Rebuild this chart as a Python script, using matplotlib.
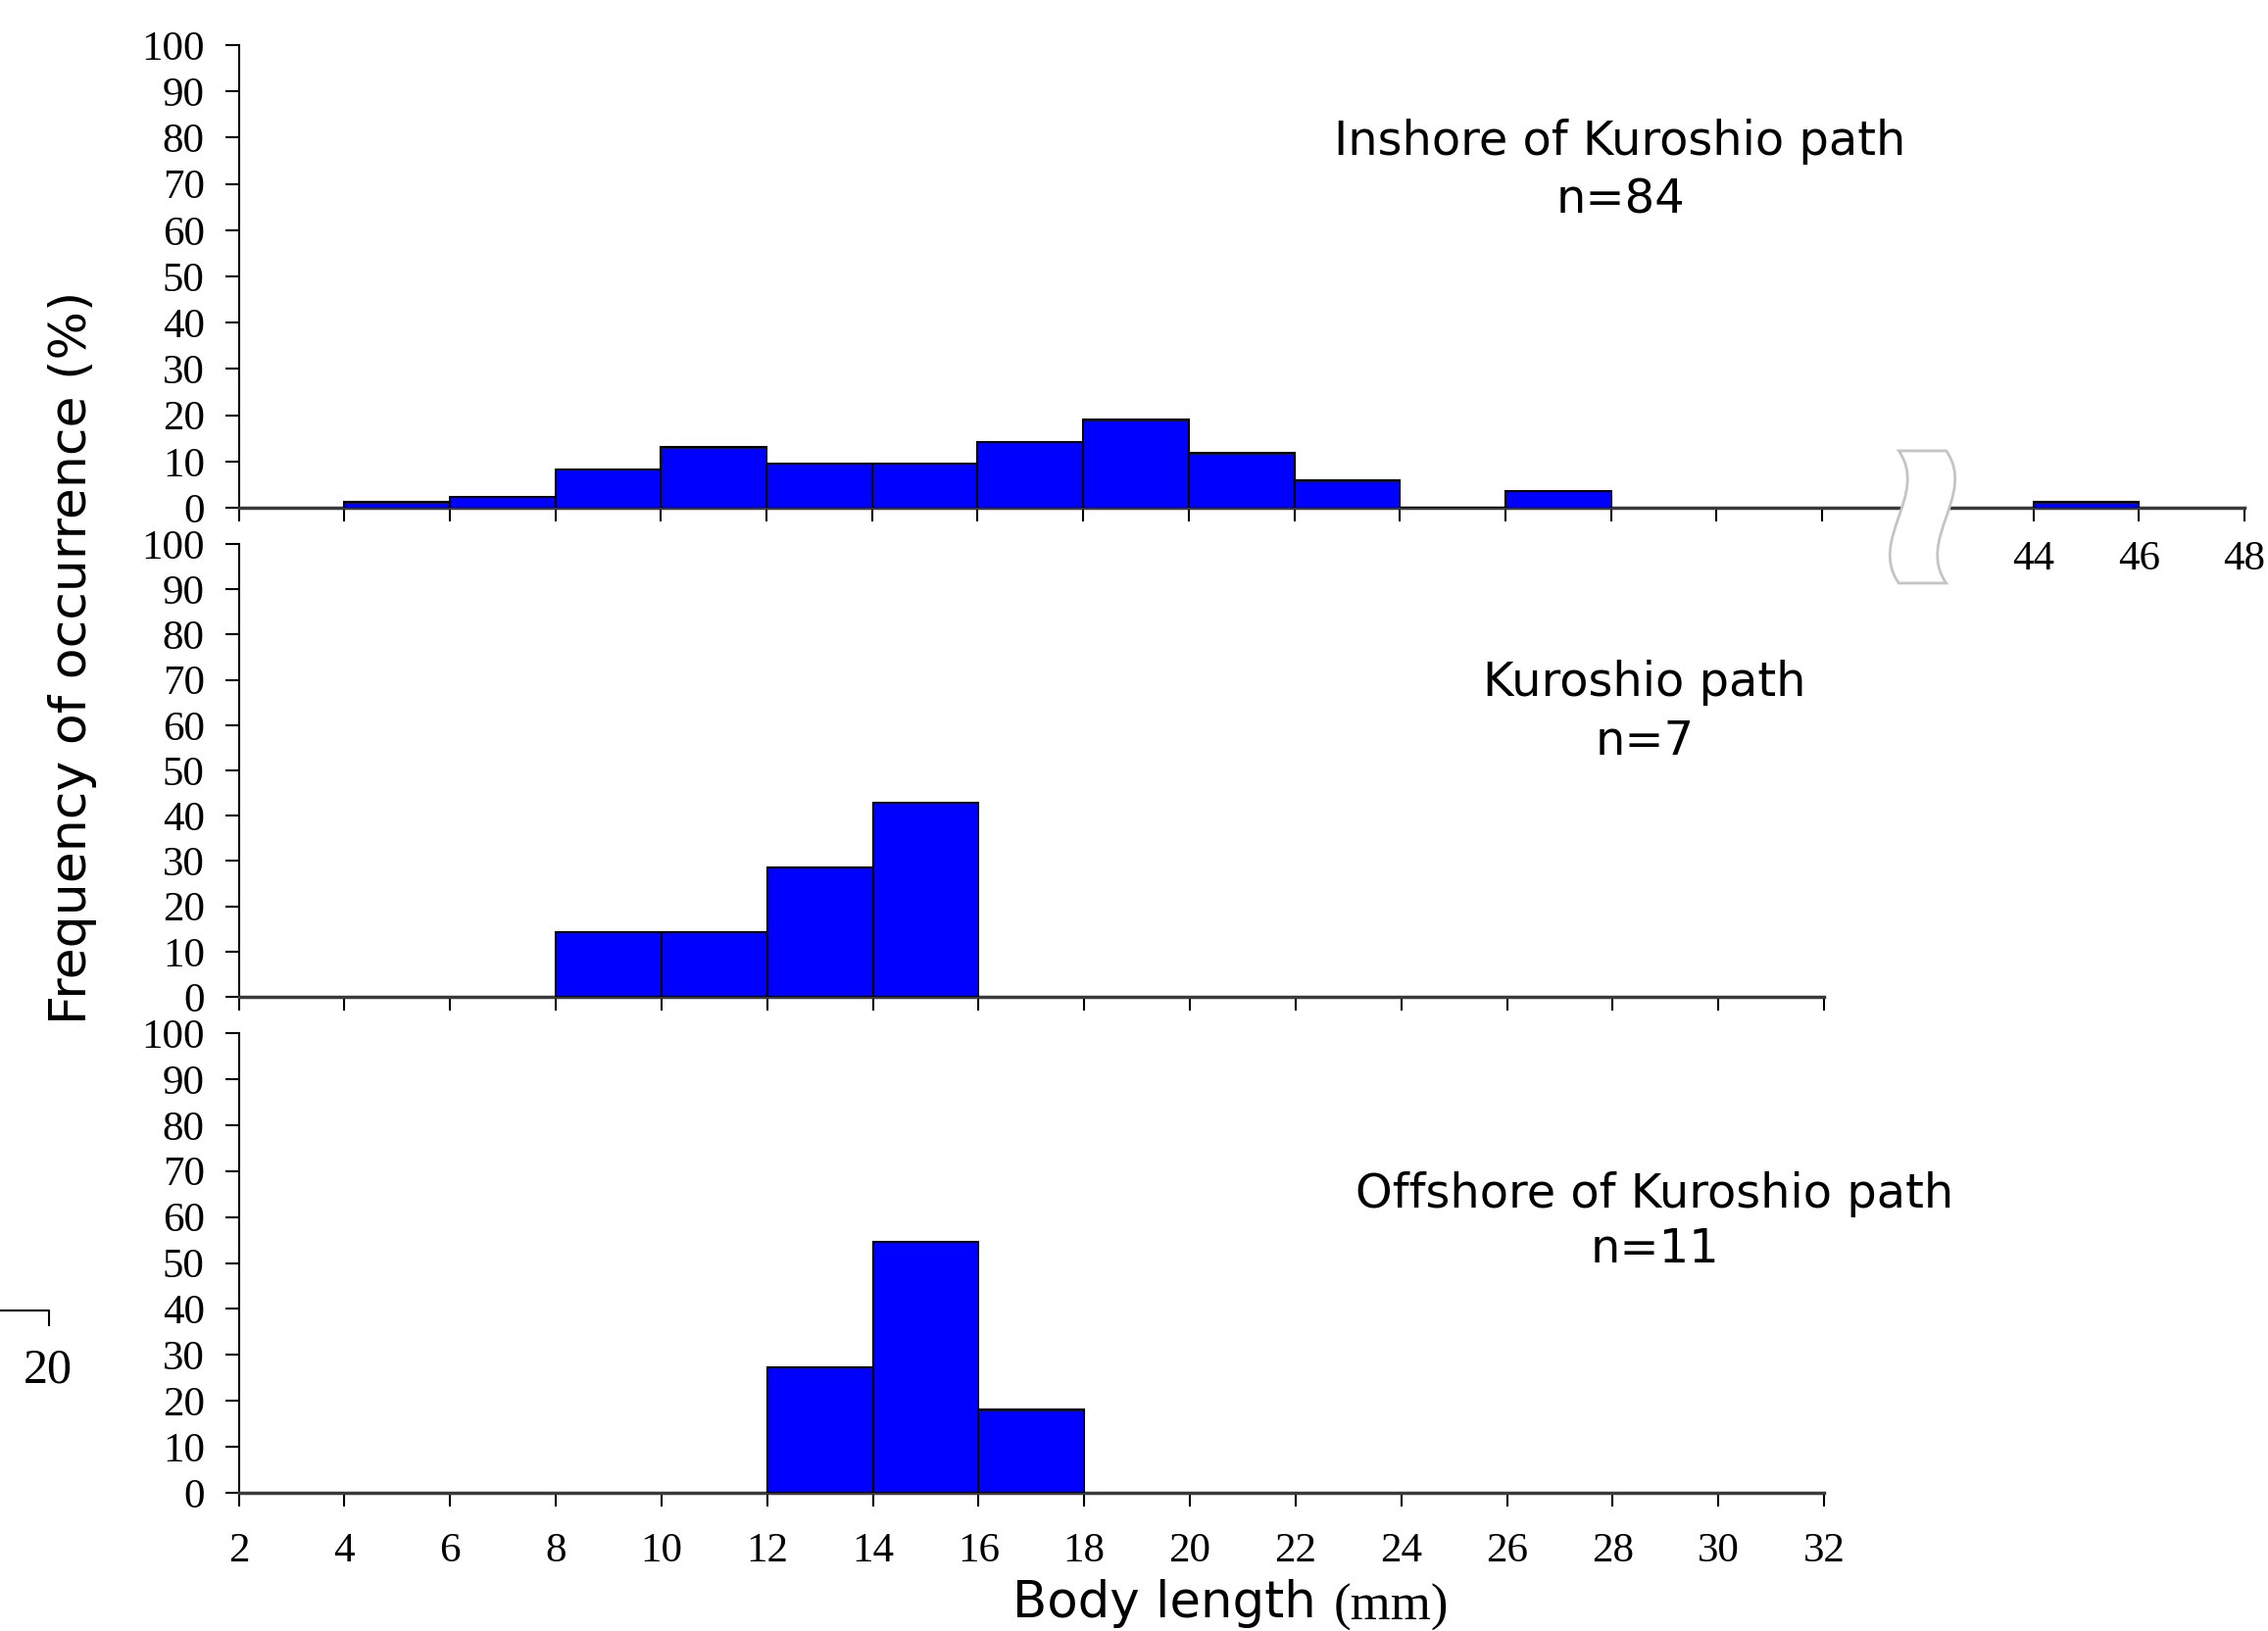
import numpy as np
import matplotlib.pyplot as plt
from matplotlib.path import Path
from matplotlib.patches import PathPatch

# bin left edges (mm) and frequency of occurrence (%)
inshore_bins = [4, 6, 8, 10, 12, 14, 16, 18, 20, 22, 24, 26, 44]
inshore_freq = [1.19, 2.38, 8.33, 13.10, 9.52, 9.52, 14.29, 19.05, 11.90, 5.95, 0.0, 3.57, 1.19]
kuroshio_bins = [8, 10, 12, 14]
kuroshio_freq = [14.29, 14.29, 28.57, 42.86]
offshore_bins = [12, 14, 16]
offshore_freq = [27.27, 54.55, 18.18]

panel_titles = ["Inshore of Kuroshio path", "Kuroshio path", "Offshore of Kuroshio path"]
panel_n = ["n=84", "n=7", "n=11"]

yticks = list(range(0, 101, 10))
xticks = list(range(2, 33, 2))
break_labels = ["44", "46", "48"]

# the top panel folds 44-48 mm onto positions 36-40 after an axis break
gap_shift = 8

serif = "Liberation Serif"
sans = "DejaVu Sans"
bar_w = 2

fig = plt.figure(figsize=(23.14, 16.64), dpi=100)
W, H = 2314, 1664

def px_axes(x0, x1, y_top, y_bot):
    return fig.add_axes([x0 / W, 1 - y_bot / H, (x1 - x0) / W, (y_bot - y_top) / H])

ax_top = px_axes(243.5, 2290, 46, 518)
ax_mid = px_axes(243.5, 1861, 555, 1017)
ax_bot = px_axes(243.5, 1861, 1054, 1523)

for ax in (ax_top, ax_mid, ax_bot):
    ax.set_ylim(0, 100)
    ax.set_yticks(yticks)
    ax.set_yticklabels([str(v) for v in yticks], fontfamily=serif, fontsize=31)
    for s in ("top", "right"):
        ax.spines[s].set_visible(False)
    ax.spines["left"].set_linewidth(1.5)
    ax.spines["bottom"].set_linewidth(2.5)
    ax.spines["bottom"].set_color("#3a3a3a")
    ax.tick_params(axis="y", direction="out", length=10, width=1.5, pad=15)
    ax.tick_params(axis="x", direction="out", length=10, width=1.5, pad=14)

# top panel
pos_top = [b - gap_shift if b > 32 else b for b in inshore_bins]
ax_top.bar(pos_top, inshore_freq, width=bar_w, align="edge",
           color="#0000ff", edgecolor="black", linewidth=1.5, zorder=3)
ax_top.set_xlim(2, 40)
top_ticks = xticks + [int(l) - gap_shift for l in break_labels]
ax_top.set_xticks(top_ticks)
ax_top.set_xticklabels([""] * len(xticks) + break_labels, fontfamily=serif, fontsize=31)

# axis break symbol
bx0, bx1 = 33.45, 34.35
by0, by1 = 12.3, -16.3
d = 0.58
hgt = by0 - by1
verts = [
    (bx0, by0),
    (bx0 + d, by0 - hgt / 3), (bx0 - d, by0 - 2 * hgt / 3), (bx0, by1),
    (bx1, by1),
    (bx1 - d, by0 - 2 * hgt / 3), (bx1 + d, by0 - hgt / 3), (bx1, by0),
    (bx0, by0),
]
codes = [Path.MOVETO, Path.CURVE4, Path.CURVE4, Path.CURVE4, Path.LINETO,
         Path.CURVE4, Path.CURVE4, Path.CURVE4, Path.CLOSEPOLY]
brk = PathPatch(Path(verts, codes), facecolor="white", edgecolor="#c4c4c4",
                linewidth=2, clip_on=False, zorder=10)
ax_top.add_patch(brk)

# middle panel
ax_mid.bar(kuroshio_bins, kuroshio_freq, width=bar_w, align="edge",
           color="#0000ff", edgecolor="black", linewidth=1.5, zorder=3)
ax_mid.set_xlim(2, 32)
ax_mid.set_xticks(xticks)
ax_mid.set_xticklabels([])

# bottom panel
ax_bot.bar(offshore_bins, offshore_freq, width=bar_w, align="edge",
           color="#0000ff", edgecolor="black", linewidth=1.5, zorder=3)
ax_bot.set_xlim(2, 32)
ax_bot.set_xticks(xticks)
ax_bot.set_xticklabels([str(v) for v in xticks], fontfamily=serif, fontsize=31)
ax_bot.tick_params(axis="x", pad=19)

# panel annotations
label_pos = [(1653, 145, 204), (1678, 697, 756), (1688, 1219, 1275)]
for (cx, y1, y2), title, n in zip(label_pos, panel_titles, panel_n):
    fig.text(cx / W, 1 - y1 / H, title, ha="center", va="center", fontfamily=sans, fontsize=34.5)
    fig.text(cx / W, 1 - y2 / H, n, ha="center", va="center", fontfamily=sans, fontsize=34.5)

fig.text(74 / W, 1 - 671 / H, "Frequency of occurrence (%)", rotation=90,
         ha="center", va="center", fontfamily=sans, fontsize=37.5)
fig.text(1343 / W, 1 - 1636 / H, "Body length", ha="right", va="center",
         fontfamily=sans, fontsize=37)
fig.text(1361 / W, 1 - 1640 / H, "(mm)", ha="left", va="center",
         fontfamily=serif, fontsize=38)

# stray fragment from a neighbouring figure at the left edge
fig.text(49 / W, 1 - 1398 / H, "20", ha="center", va="center", fontfamily=serif, fontsize=36)
fig.add_artist(plt.Line2D([0, 50 / W, 50 / W], [1 - 1337 / H, 1 - 1337 / H, 1 - 1352 / H],
                          color="black", linewidth=1.5))

fig.savefig("out.png", dpi=100)
